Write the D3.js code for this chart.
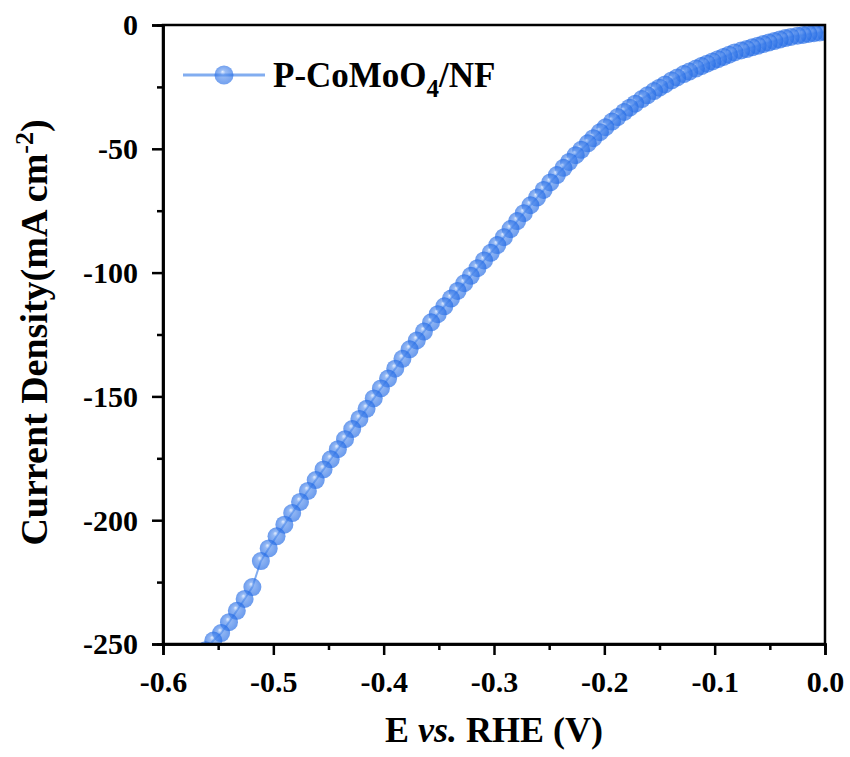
<!DOCTYPE html>
<html>
<head>
<meta charset="utf-8">
<script src="https://cdn.jsdelivr.net/npm/d3@7"></script>
<style>
  html, body { margin: 0; padding: 0; background: #fff; }
  svg { display: block; }
</style>
</head>
<body>
<svg id="chart" width="850" height="757"></svg>
<script>
// LSV polarization curve of P-CoMoO4/NF (HER), iR-corrected potential vs. RHE
const potential = [0.000, -0.005, -0.010, -0.015, -0.020, -0.025, -0.031, -0.036, -0.041, -0.046,
  -0.051, -0.056, -0.061, -0.066, -0.071, -0.076, -0.082, -0.087, -0.092, -0.097,
  -0.102, -0.107, -0.112, -0.117, -0.123, -0.128, -0.134, -0.139, -0.145, -0.150,
  -0.155, -0.161, -0.166, -0.172, -0.177, -0.182, -0.188, -0.193, -0.199, -0.204,
  -0.210, -0.215, -0.221, -0.226, -0.232, -0.237, -0.243, -0.249, -0.255, -0.261,
  -0.267, -0.273, -0.279, -0.285, -0.291, -0.297, -0.303, -0.309, -0.315, -0.321,
  -0.327, -0.333, -0.339, -0.345, -0.351, -0.357, -0.3635, -0.370, -0.3765, -0.383,
  -0.3895, -0.396, -0.4025, -0.409, -0.4155, -0.422, -0.4285, -0.435, -0.4415, -0.448,
  -0.4545, -0.4616, -0.4687, -0.4758, -0.4829, -0.490, -0.4971, -0.5042, -0.5113, -0.5190,
  -0.5260, -0.5331, -0.5402, -0.5473, -0.5544, -0.5615];

const currentDensity = [-2.8, -3.0, -3.3, -3.6, -4.0, -4.3, -4.8, -5.3, -5.9, -6.5,
  -7.1, -7.7, -8.4, -9.0, -9.7, -10.3, -11.1, -12.0, -12.9, -13.8,
  -14.7, -15.6, -16.6, -17.6, -18.8, -19.8, -21.2, -22.4, -24.0, -25.3,
  -26.7, -28.4, -29.9, -31.8, -33.4, -35.1, -37.2, -39.0, -41.3, -43.3,
  -45.7, -47.8, -50.4, -52.6, -55.3, -57.7, -60.6, -63.6, -66.6, -69.7,
  -72.8, -76.0, -79.2, -82.4, -85.7, -88.9, -92.0, -95.1, -98.2, -101.3,
  -104.3, -107.4, -110.5, -113.6, -116.8, -120.1, -123.8, -127.4, -131.0, -134.8,
  -138.8, -142.8, -146.8, -150.8, -155.0, -159.1, -163.2, -167.3, -171.3, -175.4,
  -179.5, -183.8, -188.2, -192.6, -197.1, -201.8, -206.5, -211.4, -216.5, -227.0,
  -231.8, -236.6, -241.2, -245.6, -248.6, -252.5];

const seriesName = "P-CoMoO";
const xTicks = [-0.6, -0.5, -0.4, -0.3, -0.2, -0.1, 0.0];
const xTickLabels = ["-0.6", "-0.5", "-0.4", "-0.3", "-0.2", "-0.1", "0.0"];
const xMinorTicks = [-0.55, -0.45, -0.35, -0.25, -0.15, -0.05];
const yTicks = [0, -50, -100, -150, -200, -250];
const yTickLabels = ["0", "-50", "-100", "-150", "-200", "-250"];
const yMinorTicks = [-25, -75, -125, -175, -225];

const data = potential.map((e, i) => ({ e, j: currentDensity[i] }));

const FONT = "'Liberation Serif', 'Times New Roman', serif";
const markerColor = "rgb(28,102,228)";
const lineColor = "#82adf0";

const plot = { left: 163, right: 825, top: 25, bottom: 644 };

const svg = d3.select("#chart");

const x = d3.scaleLinear().domain([-0.6, 0]).range([plot.left, plot.right]);
const y = d3.scaleLinear().domain([-250, 0]).range([plot.bottom, plot.top]);

// sphere-like shading for the markers
const defs = svg.append("defs");
const grad = defs.append("radialGradient")
  .attr("id", "ball")
  .attr("cx", "50%").attr("cy", "50%").attr("r", "50%")
  .attr("fx", "42%").attr("fy", "32%");
grad.append("stop").attr("offset", "0%").attr("stop-color", "#d6e5fd");
grad.append("stop").attr("offset", "28%").attr("stop-color", "#5d94ee");
grad.append("stop").attr("offset", "100%").attr("stop-color", markerColor);

defs.append("clipPath").attr("id", "plot-clip")
  .append("rect")
  .attr("x", plot.left).attr("y", plot.top)
  .attr("width", plot.right - plot.left).attr("height", plot.bottom - plot.top);

// data: line + markers
const gData = svg.append("g").attr("clip-path", "url(#plot-clip)");
const line = d3.line().x(d => x(d.e)).y(d => y(d.j));
gData.append("path")
  .datum(data)
  .attr("d", line)
  .attr("fill", "none")
  .attr("stroke", lineColor)
  .attr("stroke-width", 2);
gData.selectAll("circle")
  .data(data)
  .join("circle")
  .attr("cx", d => x(d.e))
  .attr("cy", d => y(d.j))
  .attr("r", 9)
  .attr("fill", "url(#ball)")
  .attr("fill-opacity", 0.66);

// frame
svg.append("rect")
  .attr("x", plot.left).attr("y", plot.top)
  .attr("width", plot.right - plot.left).attr("height", plot.bottom - plot.top)
  .attr("fill", "none").attr("stroke", "#000").attr("stroke-width", 2.5);

function styleAxis(g) {
  g.select(".domain").attr("stroke", "#000").attr("stroke-width", 2.5);
  g.selectAll(".tick line").attr("stroke", "#000").attr("stroke-width", 2.5);
  g.selectAll("text")
    .attr("font-family", FONT).attr("font-weight", "bold")
    .attr("font-size", 30).attr("fill", "#000");
}

// x axis
const gx = svg.append("g").attr("transform", `translate(0,${plot.bottom})`)
  .call(d3.axisBottom(x).tickValues(xTicks).tickSize(11)
    .tickFormat((d, i) => xTickLabels[i]));
styleAxis(gx);
gx.selectAll("text").attr("y", 48).attr("dy", 0);
const gxm = svg.append("g").attr("transform", `translate(0,${plot.bottom})`)
  .call(d3.axisBottom(x).tickValues(xMinorTicks).tickSize(6).tickFormat(""));
styleAxis(gxm);

// y axis
const gy = svg.append("g").attr("transform", `translate(${plot.left},0)`)
  .call(d3.axisLeft(y).tickValues(yTicks).tickSize(11)
    .tickFormat((d, i) => yTickLabels[i]));
styleAxis(gy);
gy.selectAll("text").attr("x", -25).attr("dy", "0.33em");
const gym = svg.append("g").attr("transform", `translate(${plot.left},0)`)
  .call(d3.axisLeft(y).tickValues(yMinorTicks).tickSize(6).tickFormat(""));
styleAxis(gym);

// axis titles
const xt = svg.append("text")
  .attr("x", (plot.left + plot.right) / 2).attr("y", 742)
  .attr("text-anchor", "middle")
  .attr("font-family", FONT).attr("font-weight", "bold").attr("font-size", 36);
xt.append("tspan").text("E ");
xt.append("tspan").attr("font-style", "italic").text("vs.");
xt.append("tspan").text(" RHE (V)");

const yt = svg.append("text")
  .attr("transform", `translate(47,${(plot.top + plot.bottom) / 2 - 2}) rotate(-90)`)
  .attr("text-anchor", "middle")
  .attr("font-family", FONT).attr("font-weight", "bold").attr("font-size", 38);
yt.append("tspan").text("Current Density(mA cm");
yt.append("tspan").attr("dy", -14).attr("font-size", 26).text("-2");
yt.append("tspan").attr("dy", 14).text(")");

// legend
const lg = svg.append("g");
lg.append("line")
  .attr("x1", 183).attr("x2", 265).attr("y1", 75).attr("y2", 75)
  .attr("stroke", lineColor).attr("stroke-width", 3);
lg.append("circle")
  .attr("cx", 224).attr("cy", 75).attr("r", 9.5)
  .attr("fill", "url(#ball)").attr("fill-opacity", 0.62);
const lt = lg.append("text")
  .attr("x", 273).attr("y", 87)
  .attr("font-family", FONT).attr("font-weight", "bold").attr("font-size", 35);
lt.append("tspan").text(seriesName);
lt.append("tspan").attr("dy", 10).attr("font-size", 25).text("4");
lt.append("tspan").attr("dy", -10).text("/NF");
</script>
</body>
</html>
